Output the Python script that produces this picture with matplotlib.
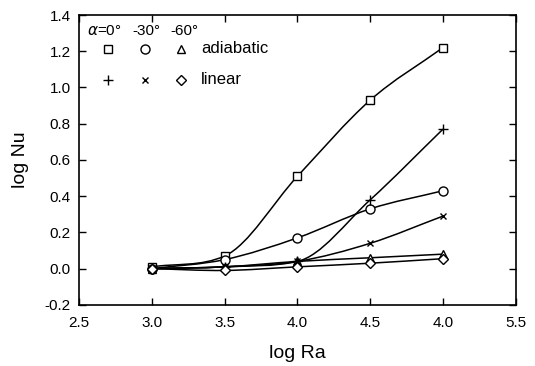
import matplotlib
matplotlib.use("Agg")
import matplotlib.pyplot as plt
import numpy as np
from matplotlib.path import Path
from matplotlib.patches import PathPatch

plt.rcParams['font.family'] = ['Liberation Sans', 'DejaVu Sans']

log_ra = [3.0, 3.5, 4.0, 4.5, 5.0]
adiab_0 = [0.01, 0.07, 0.51, 0.93, 1.22]
adiab_30 = [0.0, 0.05, 0.17, 0.33, 0.43]
adiab_60 = [0.0, 0.01, 0.04, 0.06, 0.08]
lin_0 = [0.0, 0.01, 0.04, 0.38, 0.77]
lin_30 = [0.0, 0.01, 0.04, 0.14, 0.29]
lin_60 = [0.0, -0.01, 0.01, 0.03, 0.055]

xtick_vals = [2.5, 3.0, 3.5, 4.0, 4.5, 5.0, 5.5]
xtick_labels = ['2.5', '3.0', '3.5', '4.0', '4.5', '4.0', '5.5']
ytick_vals = [-0.2, 0.0, 0.2, 0.4, 0.6, 0.8, 1.0, 1.2, 1.4]


def smooth_path(x, y):
    # catmull-rom tangents, clamped so the curve doesn't overshoot
    x = np.asarray(x, float)
    y = np.asarray(y, float)
    h = np.diff(x)
    d = np.diff(y) / h
    m = np.zeros_like(y)
    m[0] = d[0]
    m[-1] = d[-1]
    for i in range(1, len(x) - 1):
        m[i] = (y[i + 1] - y[i - 1]) / (x[i + 1] - x[i - 1])
        if d[i - 1] * d[i] > 0:
            lim = 3 * min(abs(d[i - 1]), abs(d[i]))
            m[i] = np.sign(m[i]) * min(abs(m[i]), lim)
    verts = [(x[0], y[0])]
    codes = [Path.MOVETO]
    for i in range(len(x) - 1):
        verts += [(x[i] + h[i] / 3, y[i] + m[i] * h[i] / 3),
                  (x[i + 1] - h[i] / 3, y[i + 1] - m[i + 1] * h[i] / 3),
                  (x[i + 1], y[i + 1])]
        codes += [Path.CURVE4] * 3
    return Path(verts, codes)


fig = plt.figure(figsize=(5.35, 3.66), dpi=100)
ax = fig.add_axes([0.148, 0.167, 0.816, 0.792])

series = [(adiab_0, 's'), (adiab_30, 'o'), (adiab_60, '^'),
          (lin_0, '+'), (lin_30, 'x'), (lin_60, 'D')]
sizes = {'s': 5.5, 'o': 6.5, '^': 5.5, '+': 6.5, 'x': 5, 'D': 5}
for vals, mk in series:
    ax.add_patch(PathPatch(smooth_path(log_ra, vals), fill=False,
                           edgecolor='black', lw=1.1))
    ax.plot(log_ra, vals, ls='none', marker=mk, ms=sizes[mk],
            mfc='white', mec='black', mew=1.0, zorder=3)

ax.set_xlim(2.5, 5.5)
ax.set_ylim(-0.2, 1.4)
ax.set_xticks(xtick_vals)
ax.set_xticklabels(xtick_labels)
ax.set_yticks(ytick_vals)
ax.set_yticklabels(['%.1f' % v for v in ytick_vals])
ax.tick_params(direction='in', top=True, right=True, length=5,
               labelsize=11, width=1)
ax.tick_params(axis='x', pad=8)
ax.tick_params(axis='y', pad=6)
ax.set_xlabel('log Ra', fontsize=14, labelpad=11)
ax.set_ylabel('log Nu', fontsize=14, labelpad=11)
for s in ax.spines.values():
    s.set_linewidth(1.2)

# legend drawn as a small table inside the axes
ax.text(0.018, 0.945, r'$\alpha$=0°', transform=ax.transAxes, fontsize=11, va='center')
ax.text(0.121, 0.945, '-30°', transform=ax.transAxes, fontsize=11, va='center')
ax.text(0.208, 0.945, '-60°', transform=ax.transAxes, fontsize=11, va='center')
leg_x = [0.066, 0.151, 0.233]
for mk, lx in zip(['s', 'o', '^'], leg_x):
    ax.plot([lx], [0.883], transform=ax.transAxes, marker=mk, ms=sizes[mk],
            mfc='white', mec='black', mew=1.0, ls='none', clip_on=False)
for mk, lx in zip(['+', 'x', 'D'], leg_x):
    ax.plot([lx], [0.776], transform=ax.transAxes, marker=mk, ms=sizes[mk],
            mfc='white', mec='black', mew=1.0, ls='none', clip_on=False)
ax.text(0.279, 0.883, 'adiabatic', transform=ax.transAxes, fontsize=12, va='center')
ax.text(0.279, 0.776, 'linear', transform=ax.transAxes, fontsize=12, va='center')

fig.savefig('out.png', dpi=100)
